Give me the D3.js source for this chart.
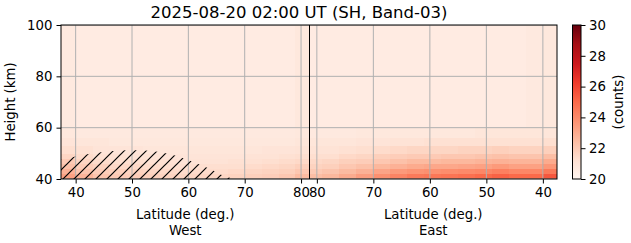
<!doctype html>
<html>
<head>
<script src="https://d3js.org/d3.v7.min.js"></script>
<style>
  body { margin: 0; background: #fff; }
  svg { display: block; }
  text { font-family: "DejaVu Sans", sans-serif; fill: #000; }
  .tick line { stroke: #000; stroke-width: 1; }
  .grid line { stroke: #b0b0b0; stroke-width: 1; }
</style>
</head>
<body>
<svg id="chart" width="631" height="243"></svg>
<script>
// latitude edges of the columns, west half runs south->north, east half north->south
const westEdges = [37.4, 40, 43, 46, 49, 52, 55, 58, 61, 64, 67, 70, 73, 76, 79, 81.5];
const eastEdges = [81.3, 79, 76, 73, 70, 67, 64, 61, 58, 55, 52, 49, 46, 43, 40, 37.5];
const heightEdges = [40, 42, 44, 46, 48, 50, 53, 56, 60, 100];

// counts per height band (rows, bottom to top) and latitude column
const westCounts = [
  [23.3, 22.7, 22.2, 22.0, 21.9, 21.8, 21.7, 21.6, 21.6, 21.6, 21.7, 21.8, 21.9, 22.1, 22.5],
  [22.8, 22.2, 21.9, 21.8, 21.7, 21.6, 21.5, 21.4, 21.4, 21.4, 21.5, 21.6, 21.7, 21.8, 22.1],
  [22.3, 21.9, 21.7, 21.5, 21.5, 21.4, 21.3, 21.3, 21.3, 21.3, 21.3, 21.4, 21.5, 21.6, 21.8],
  [22.0, 21.6, 21.4, 21.3, 21.3, 21.2, 21.2, 21.1, 21.1, 21.1, 21.2, 21.2, 21.3, 21.4, 21.5],
  [21.6, 21.4, 21.2, 21.2, 21.1, 21.1, 21.0, 21.0, 21.0, 21.0, 21.0, 21.1, 21.1, 21.2, 21.3],
  [21.3, 21.2, 21.0, 21.0, 21.0, 20.9, 20.9, 20.9, 20.9, 20.9, 20.9, 20.9, 21.0, 21.0, 21.1],
  [21.0, 20.9, 20.9, 20.8, 20.8, 20.8, 20.8, 20.8, 20.8, 20.8, 20.8, 20.8, 20.8, 20.8, 20.9],
  [20.8, 20.7, 20.7, 20.7, 20.7, 20.7, 20.7, 20.7, 20.7, 20.7, 20.7, 20.7, 20.7, 20.7, 20.8],
  [20.7, 20.6, 20.6, 20.6, 20.6, 20.6, 20.6, 20.6, 20.6, 20.6, 20.6, 20.6, 20.6, 20.6, 20.8]
];
const eastCounts = [
  [22.4, 22.6, 23.0, 23.4, 23.8, 24.2, 24.5, 24.6, 24.7, 24.8, 25.0, 25.2, 25.0, 25.0, 25.5],
  [22.0, 22.2, 22.5, 22.8, 23.2, 23.5, 23.7, 23.8, 23.9, 24.0, 24.1, 24.3, 24.1, 24.1, 24.5],
  [21.7, 21.8, 22.1, 22.3, 22.6, 22.8, 23.0, 23.1, 23.1, 23.2, 23.3, 23.5, 23.3, 23.3, 23.6],
  [21.5, 21.6, 21.8, 21.9, 22.1, 22.3, 22.5, 22.5, 22.6, 22.6, 22.7, 22.8, 22.7, 22.7, 23.0],
  [21.3, 21.3, 21.5, 21.6, 21.8, 21.9, 22.0, 22.0, 22.1, 22.1, 22.2, 22.3, 22.2, 22.2, 22.4],
  [21.1, 21.1, 21.2, 21.3, 21.4, 21.5, 21.6, 21.6, 21.6, 21.7, 21.7, 21.8, 21.7, 21.7, 21.8],
  [20.9, 20.9, 20.9, 21.0, 21.0, 21.1, 21.1, 21.2, 21.2, 21.2, 21.2, 21.2, 21.2, 21.2, 21.3],
  [20.7, 20.7, 20.7, 20.8, 20.8, 20.8, 20.8, 20.8, 20.8, 20.8, 20.9, 20.9, 20.9, 20.9, 20.9],
  [20.6, 20.6, 20.6, 20.6, 20.6, 20.6, 20.6, 20.6, 20.6, 20.6, 20.6, 20.6, 20.6, 20.7, 20.8]
];

// outline of the hatched (masked) area in the west half
const hatchLat = [37.4, 40, 43, 46, 49, 52, 55, 58, 61, 64, 66, 68];
const hatchTop = [47.5, 48.8, 50, 50.8, 51.2, 51.2, 50.5, 49, 46.5, 43.8, 41.5, 40];

const latTicks = [40, 50, 60, 70, 80];
const heightTicks = [40, 60, 80, 100];
const cbarTicks = [20, 22, 24, 26, 28, 30];
const redsStops = ["#fff5f0", "#fee0d2", "#fcbba1", "#fc9272", "#fb6a4a", "#ef3b2c", "#cb181d", "#a50f15", "#67000d"];

const pLeft = 61, pMid = 309.5, pRight = 557, pTop = 25, pBottom = 179;
const fs = 13.3;

const svg = d3.select('#chart');
const xWest = d3.scaleLinear().domain([37.4, 81.5]).range([pLeft, pMid]);
const xEast = d3.scaleLinear().domain([81.3, 37.5]).range([pMid, pRight]);
const y = d3.scaleLinear().domain([40, 100]).range([pBottom, pTop]);
const color = d3.scaleLinear()
  .domain(redsStops.map((c, i) => 20 + i * 10 / 8))
  .range(redsStops)
  .clamp(true);

const defs = svg.append('defs');
defs.append('clipPath').attr('id', 'plotclip')
  .append('rect').attr('x', pLeft).attr('y', pTop).attr('width', pRight - pLeft).attr('height', pBottom - pTop);

const plot = svg.append('g').attr('clip-path', 'url(#plotclip)');

function drawCells(counts, edges, x) {
  counts.forEach((row, i) => {
    plot.append('g').selectAll('rect')
      .data(row)
      .enter().append('rect')
      .attr('x', (d, j) => Math.min(x(edges[j]), x(edges[j + 1])))
      .attr('width', (d, j) => Math.abs(x(edges[j + 1]) - x(edges[j])) + 0.5)
      .attr('y', y(heightEdges[i + 1]))
      .attr('height', y(heightEdges[i]) - y(heightEdges[i + 1]) + 0.5)
      .attr('fill', d => color(d))
      .attr('shape-rendering', 'crispEdges');
  });
}
drawCells(westCounts, westEdges, xWest);
drawCells(eastCounts, eastEdges, xEast);

// grid
const grid = plot.append('g').attr('class', 'grid');
latTicks.forEach(t => {
  [xWest(t), xEast(t)].forEach(px => {
    grid.append('line').attr('x1', px).attr('x2', px).attr('y1', pTop).attr('y2', pBottom);
  });
});
heightTicks.forEach(t => {
  grid.append('line').attr('x1', pLeft).attr('x2', pRight).attr('y1', y(t)).attr('y2', y(t));
});

// hatched region
defs.append('pattern').attr('id', 'hatch')
  .attr('patternUnits', 'userSpaceOnUse')
  .attr('width', 11).attr('height', 11)
  .append('path')
  .attr('d', 'M0,11 L11,0 M-2,2 L2,-2 M9,13 L13,9')
  .attr('stroke', '#000').attr('stroke-width', 1.2);

const hatchPts = hatchLat.map((d, i) => [xWest(d), y(hatchTop[i])]);
hatchPts.push([xWest(hatchLat[hatchLat.length - 1]), y(40)], [xWest(hatchLat[0]), y(40)]);
plot.append('path')
  .attr('d', d3.line()(hatchPts) + 'Z')
  .attr('fill', 'url(#hatch)');

// divider between the halves
svg.append('line').attr('x1', pMid).attr('x2', pMid).attr('y1', pTop).attr('y2', pBottom)
  .attr('stroke', '#000').attr('stroke-width', 1);

// frame
svg.append('rect').attr('x', pLeft).attr('y', pTop).attr('width', pRight - pLeft).attr('height', pBottom - pTop)
  .attr('fill', 'none').attr('stroke', '#000').attr('stroke-width', 1);

// axes
function styleAxis(g) {
  g.select('.domain').remove();
  g.selectAll('.tick text').attr('font-family', 'DejaVu Sans').attr('font-size', fs);
}
svg.append('g').attr('transform', `translate(0,${pBottom})`)
  .call(d3.axisBottom(xWest).tickValues(latTicks).tickSize(4.5).tickPadding(4.5)).call(styleAxis);
svg.append('g').attr('transform', `translate(0,${pBottom})`)
  .call(d3.axisBottom(xEast).tickValues(latTicks).tickSize(4.5).tickPadding(4.5)).call(styleAxis);
svg.append('g').attr('transform', `translate(${pLeft},0)`)
  .call(d3.axisLeft(y).tickValues(heightTicks).tickSize(4.5).tickPadding(4)).call(styleAxis);

// labels
svg.append('text').attr('x', 299).attr('y', 18).attr('text-anchor', 'middle')
  .attr('font-size', 16.5).text('2025-08-20 02:00 UT (SH, Band-03)');
svg.append('text').attr('x', (pLeft + pMid) / 2).attr('y', 219).attr('text-anchor', 'middle')
  .attr('font-size', fs).text('Latitude (deg.)');
svg.append('text').attr('x', (pLeft + pMid) / 2).attr('y', 235).attr('text-anchor', 'middle')
  .attr('font-size', fs).text('West');
svg.append('text').attr('x', (pMid + pRight) / 2).attr('y', 219).attr('text-anchor', 'middle')
  .attr('font-size', fs).text('Latitude (deg.)');
svg.append('text').attr('x', (pMid + pRight) / 2).attr('y', 235).attr('text-anchor', 'middle')
  .attr('font-size', fs).text('East');
svg.append('text').attr('transform', `translate(15,${(pTop + pBottom) / 2}) rotate(-90)`)
  .attr('text-anchor', 'middle').attr('font-size', fs).text('Height (km)');

// colorbar
const cbX = 572.5, cbW = 8.5;
const cbY = d3.scaleLinear().domain([20, 30]).range([pBottom, pTop]);
const grad = defs.append('linearGradient').attr('id', 'cbgrad')
  .attr('x1', 0).attr('y1', 1).attr('x2', 0).attr('y2', 0);
redsStops.forEach((c, i) => {
  grad.append('stop').attr('offset', i / 8).attr('stop-color', c);
});
svg.append('rect').attr('x', cbX).attr('y', pTop).attr('width', cbW).attr('height', pBottom - pTop)
  .attr('fill', 'url(#cbgrad)').attr('stroke', '#000').attr('stroke-width', 1);
svg.append('g').attr('transform', `translate(${cbX + cbW},0)`)
  .call(d3.axisRight(cbY).tickValues(cbarTicks).tickSize(4.5).tickPadding(3.5)).call(styleAxis);
svg.append('text').attr('transform', `translate(623,${(pTop + pBottom) / 2}) rotate(-90)`)
  .attr('text-anchor', 'middle').attr('font-size', fs).text('(counts)');
</script>
</body>
</html>
